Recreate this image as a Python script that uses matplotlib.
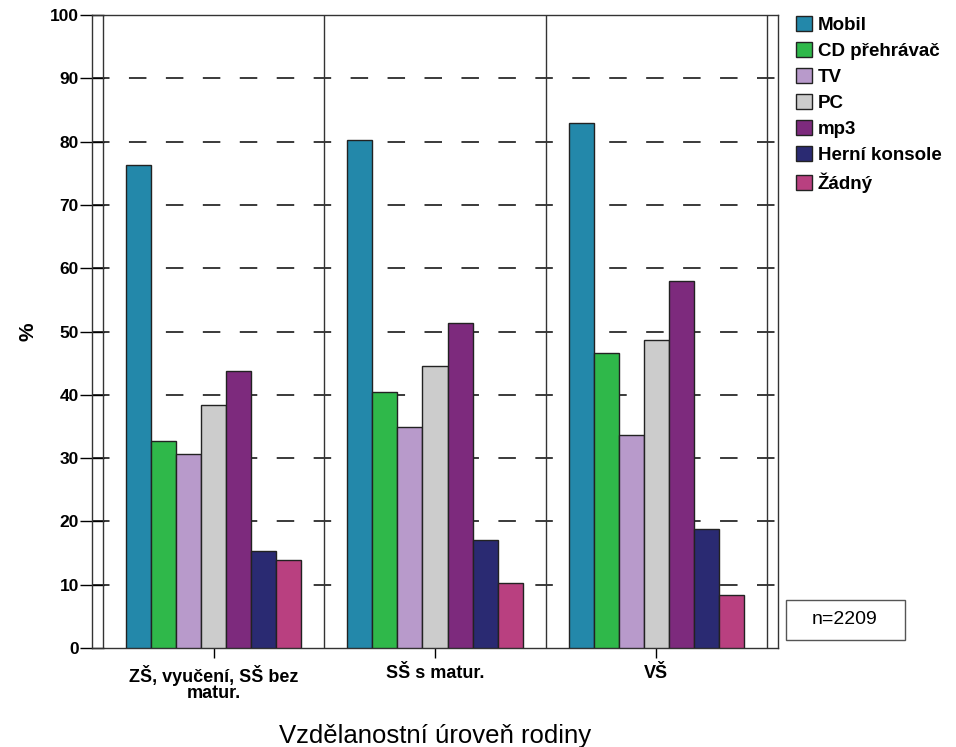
import matplotlib
matplotlib.use("Agg")
import matplotlib.pyplot as plt
import matplotlib.patches as mpatches
import numpy as np

plt.rcParams['font.family'] = ['Liberation Sans', 'DejaVu Sans']

categories = ["ZŠ, vyučení, SŠ bez\nmatur.", "SŠ s matur.", "VŠ"]
series_names = ["Mobil", "CD přehrávač", "TV", "PC", "mp3", "Herní konsole", "Žádný"]
mobil = [76.3, 80.2, 83.0]
cd = [32.7, 40.4, 46.6]
tv = [30.6, 34.9, 33.7]
pc = [38.4, 44.6, 48.6]
mp3 = [43.7, 51.3, 58.0]
herni = [15.3, 17.0, 18.8]
zadny = [13.9, 10.2, 8.4]
series_values = [mobil, cd, tv, pc, mp3, herni, zadny]
colors = ["#2388AA", "#2FB84A", "#B89ACB", "#CCCCCC", "#7D2A7D", "#2A2A72", "#B94080"]
yticks = [0, 10, 20, 30, 40, 50, 60, 70, 80, 90, 100]

fig = plt.figure(figsize=(9.56, 7.47), dpi=100)
ax = fig.add_axes([92/956, 99/747, 686/956, 633/747])

x = np.arange(len(categories))
n = len(series_names)
bw = 0.113
for i, (name, vals, c) in enumerate(zip(series_names, series_values, colors)):
    offs = (i - (n - 1) / 2) * bw
    ax.bar(x + offs, vals, width=bw, color=c, edgecolor="#222222", linewidth=1.0,
           label=name, zorder=3)

ax.set_xlim(-0.55, 2.55)
ax.set_ylim(0, 100)

for y in yticks[1:-1]:
    ax.axhline(y, color="#3a3a3a", linewidth=1.4, linestyle=(0, (9, 10)), zorder=1)
for b in [-0.5, 0.5, 1.5, 2.5]:
    ax.axvline(b, color="#333333", linewidth=1.0, zorder=2)

ax.set_yticks(yticks)
ax.set_yticklabels([str(v) for v in yticks], fontsize=12.5, fontweight="bold")
ax.set_xticks(x)
ax.set_xticklabels(categories, fontsize=13, fontweight="bold", linespacing=0.95)
ax.tick_params(axis='y', direction='inout', length=17, width=1.0, pad=1)
ax.tick_params(axis='x', direction='out', length=7, width=1.0, pad=5)
for s in ax.spines.values():
    s.set_color("#333333")
    s.set_linewidth(1.0)

ax.set_ylabel("%", fontsize=15, fontweight="bold", labelpad=9)
ax.set_xlabel("Vzdělanostní úroveň rodiny", fontsize=18.5, labelpad=16)

leg = ax.legend(loc="upper left", bbox_to_anchor=(796/956, 731/747), bbox_transform=fig.transFigure,
                frameon=False, fontsize=13.5, handlelength=0.85, handleheight=0.85,
                handletextpad=0.3, labelspacing=0.43, borderaxespad=0, borderpad=0)
for t in leg.get_texts():
    t.set_fontweight("bold")

fig.add_artist(mpatches.Rectangle((786/956, (747-640)/747), 119/956, 40/747,
                                  transform=fig.transFigure, facecolor="white",
                                  edgecolor="#555555", linewidth=1.0))
fig.text(845/956, (747-620)/747, "n=2209", fontsize=14, ha="center", va="center")

fig.savefig("out.png", dpi=100)
